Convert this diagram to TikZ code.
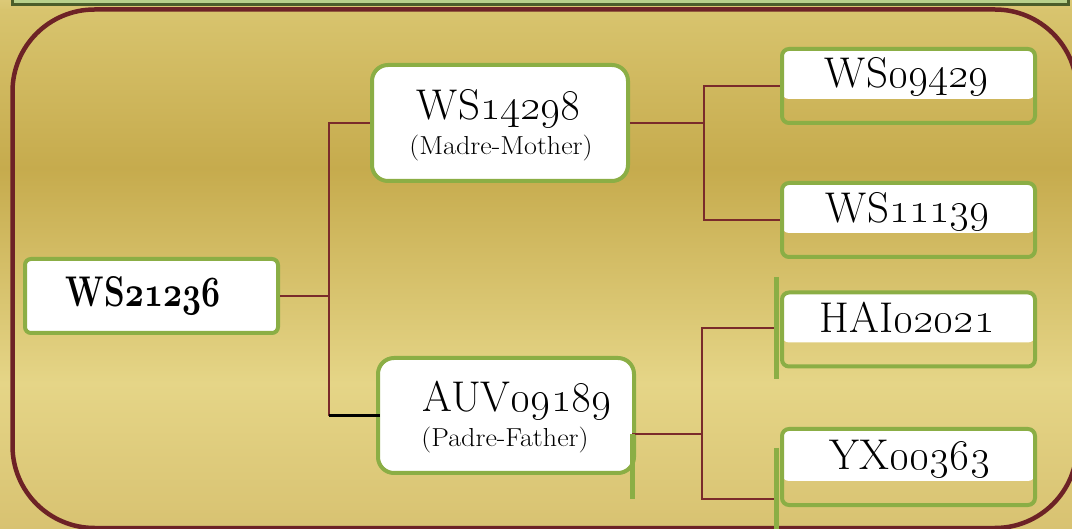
\RequirePackage{fix-cm}
\documentclass[tikz,border=0pt]{standalone}
\usepackage{graphicx}
\usetikzlibrary{calc}

\definecolor{boxgreen}{RGB}{139,174,69}
\definecolor{linemaroon}{RGB}{122,43,43}
\definecolor{framemaroon}{RGB}{109,34,38}
\definecolor{barlight}{RGB}{184,208,139}
\definecolor{bardark}{RGB}{75,93,42}
\definecolor{goldA}{RGB}{220,201,119}
\definecolor{goldB}{RGB}{216,196,110}
\definecolor{goldC}{RGB}{198,171,77}
\definecolor{goldD}{RGB}{229,213,135}
\definecolor{goldE}{RGB}{216,194,113}

\newcommand\idfont{\fontsize{43}{50}\selectfont}
\newcommand\rolefont{\fontsize{26}{30}\selectfont}
\newcommand\boldosn[1]{{\usefont{OML}{cmm}{b}{it}#1}}

\tikzset{
  rootbox/.style={draw=boxgreen, line width=4pt, fill=white, rounded corners=6pt,
    minimum width=253pt, minimum height=74pt, inner sep=0pt},
  parentbox/.style={draw=boxgreen, line width=4pt, fill=white, rounded corners=16pt,
    minimum width=256pt, minimum height=116pt, inner sep=0pt},
  gpbox/.style={draw=boxgreen, line width=4pt, rounded corners=7pt,
    minimum width=253pt, minimum height=74pt, inner sep=0pt,
    path picture={\fill[white] (path picture bounding box.north west) rectangle
      ([yshift=24pt]path picture bounding box.south east);}},
  idtext/.style={inner sep=0pt, anchor=base, font=\idfont, text=black},
  roletext/.style={inner sep=0pt, anchor=base, font=\rolefont, text=black},
  conn/.style={draw=linemaroon, line width=1.5pt},
  blackline/.style={draw=black, line width=2.5pt},
  gbar/.style={draw=boxgreen, line width=5pt},
}

\begin{document}
\begin{tikzpicture}[x=1pt, y=-1pt]
\useasboundingbox (0,0) rectangle (1072,529);
\clip (0,0) rectangle (1072,529);

% background gradient
\fill[top color=goldA, bottom color=goldB] (0,0) rectangle (1072,10.5);
\fill[top color=goldB, bottom color=goldC] (0,10) rectangle (1072,168.5);
\fill[top color=goldC, bottom color=goldD] (0,168) rectangle (1072,383.5);
\fill[top color=goldD, bottom color=goldE] (0,383) rectangle (1072,529);

% frame and top bar
\draw[framemaroon, line width=4.5pt, rounded corners=82pt] (12.5,9.5) rectangle (1077,528);
\draw[bardark, fill=barlight, line width=3pt] (12,-10) rectangle (1068,5);

% boxes
\node[rootbox] (root) at (151.5,296) {};
\node[parentbox] (mother) at (500,123) {};
\node[parentbox, minimum height=115pt] (father) at (506,415.5) {};
\node[gpbox] (g1) at (908.5,86) {};
\node[gpbox] (g2) at (908.5,220) {};
\node[gpbox] (g3) at (908.5,329.5) {};
\node[gpbox, minimum height=76pt] (g4) at (908.5,467) {};

% connector points
\coordinate (j1) at (329,296);
\coordinate (j2) at (704,123);
\coordinate (fout) at (632,434);
\coordinate (j3) at (702,434);
\coordinate (g3in) at (776,328);
\coordinate (g4in) at (776,499);
\coordinate (fbarb) at (632,499);
\coordinate (g3bart) at (776,277);
\coordinate (g3barb) at (776,379);
\coordinate (g4bart) at (776,448);
\coordinate (g4barb) at (776,535);

% connectors
\draw[conn] (root.east) -- (j1);
\draw[conn] (j1) |- (mother.west);
\draw[conn] (j1) |- (father.west);
\draw[blackline] (father.west -| j1) -- ([xshift=4pt]father.west);
\draw[conn] (mother.east) -- (j2);
\draw[conn] (j2) |- (g1.west);
\draw[conn] (j2) |- (g2.west);
\draw[conn] (fout) -- (j3);
\draw[conn] (j3) |- (g3in);
\draw[conn] (j3) |- (g4in);

% green marks
\draw[gbar] (fout) -- (fbarb);
\draw[gbar] (g3bart) -- (g3barb);
\draw[gbar] (g4bart) -- (g4barb);

% texts
\node[idtext] (roottxt) at (143,307) {\bfseries\scalebox{0.77}[1]{WS\boldosn{21236}}};
\node[idtext] (mothertxt) at (499,120) {WS\oldstylenums{14298}};
\node[roletext] (motherrole) at (501,155) {\scalebox{1.08}[1]{(Madre-Mother)}};
\node[idtext] (fathertxt) at (517,412) {AUV\oldstylenums{09189}};
\node[roletext] (fatherrole) at (505,447) {\scalebox{1.08}[1]{(Padre-Father)}};
\node[idtext] (g1txt) at (907,88) {WS\oldstylenums{09429}};
\node[idtext] (g2txt) at (908,223) {WS\oldstylenums{11139}};
\node[idtext] (g3txt) at (907,333) {HAI\oldstylenums{02021}};
\node[idtext] (g4txt) at (910,469) {YX\oldstylenums{00363}};
\end{tikzpicture}
\end{document}
